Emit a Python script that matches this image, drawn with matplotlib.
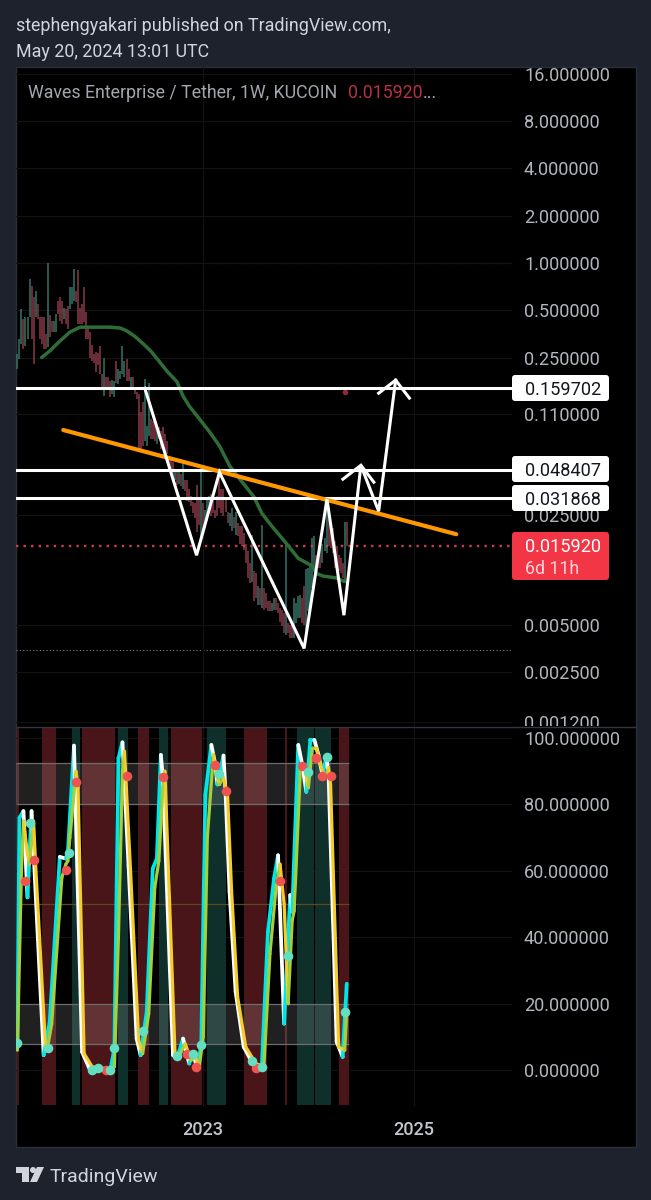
import numpy as np
import pandas as pd
import matplotlib
matplotlib.use("Agg")
import matplotlib.pyplot as plt
import matplotlib.dates as mdates
from matplotlib.patches import FancyBboxPatch, Polygon, Circle
from matplotlib.transforms import IdentityTransform, Bbox, TransformedBbox

plt.rcParams['font.family'] = ['Roboto', 'DejaVu Sans']

# ---------- data ----------
last_week = '2024-05-13'
n_weeks = 164
highs = [.263,.328,.508,.439,.45,.45,.786,.71,.61,.66,.546,.45,.45,.45,.353,1.0,.465,.425,.425,.472,
         .57,.61,.57,.52,.508,.53,.70,.70,.909,.66,.895,.52,.546,.70,.485,.395,.365,.30,.263,.27,
         .267,.297,.197,.25,.187,.187,.177,.18,.177,.238,.211,.204,.297,.238,.245,.211,.187,.187,.163,.151,
         .147,.113,.13,.183,.092,.173,.102,.098,.098,.091,.091,.085,.091,.082,.074,.0595,.0569,.0545,.0492,.047,
         .0492,.0457,.0529,.0413,.0413,.0367,.033,.0303,.0295,.0385,.0317,.0505,.0295,.0267,.0317,.033,.0341,.0317,.0267,.033,
         .047,.0367,.0367,.0325,.0262,.0255,.0274,.0243,.0262,.022,.0211,.0211,.019,.0164,.0146,.0123,.0186,.011,.0106,.0088,
         .0085,.0214,.0085,.0079,.0071,.0071,.0069,.0074,.0074,.0069,.0064,.0062,.0059,.0164,.0051,.005,.0051,.0074,.0069,.0076,
         .0077,.0074,.0088,.0113,.0115,.0123,.0177,.0182,.0139,.0142,.0153,.0164,.0177,.0326,.0274,.0226,.0205,.0169,.0158,.0139,
         .0132,.0123,.0226,.0226]
lows = [.211,.245,.305,.283,.297,.328,.45,.328,.227,.45,.439,.328,.305,.283,.283,.29,.34,.365,.365,.365,
        .472,.425,.408,.439,.408,.379,.508,.546,.57,.56,.408,.408,.408,.42,.328,.328,.25,.238,.232,.202,
        .224,.197,.163,.142,.158,.155,.14,.147,.14,.172,.17,.183,.197,.187,.177,.177,.163,.158,.147,.136,
        .0635,.0659,.0685,.074,.0685,.079,.0763,.0763,.0735,.0709,.0763,.0659,.0659,.064,.0612,.0468,.0457,.0425,.0413,.0385,
        .0395,.038,.0367,.0352,.0308,.0303,.0283,.0255,.0237,.0195,.0214,.0177,.019,.0205,.0227,.0255,.0247,.0255,.0237,.0247,
        .0274,.0255,.0247,.0262,.022,.0211,.0198,.0205,.0186,.0183,.0164,.0159,.0149,.0123,.0099,.0092,.0094,.0071,.0074,.0067,
        .0067,.0064,.0062,.0064,.0061,.0061,.0061,.0062,.0062,.0059,.0052,.0049,.0044,.0043,.0044,.0041,.0041,.0041,.0051,.0055,
        .0055,.0051,.005,.0043,.0061,.0064,.0085,.011,.0108,.0114,.0114,.0123,.0146,.0142,.0159,.0153,.0142,.0114,.0114,.011,
        .0106,.0099,.0094,.0159]
up_weeks = [0,1,2,4,5,6,9,15,18,19,23,26,27,28,43,47,48,50,51,52,53,56,63,64,65,69,78,80,82,91,93,94,95,
            105,106,108,116,119,121,126,127,133,137,138,139,140,143,144,145,146,147,151,152,153,162]

ma_weeks = [12,16,21,26,31,36,41,46,51,54,58,62,66,70,74,79,82,85,90,95,100,105,109,113,117,121,126,131,134,139,146,148,151,158,162]
ma_prices = [.25,.275,.318,.363,.39,.39,.39,.39,.385,.37,.342,.308,.275,.238,.205,.175,.142,.123,.102,.0845,.0685,
             .0513,.0438,.0378,.0326,.0255,.0211,.0177,.0159,.0132,.0118,.0106,.0102,.0099,.0094]

level_prices = [0.159702, 0.048407, 0.031868]
level_labels = ['0.159702', '0.048407', '0.031868']
last_price = 0.015920
last_label = '0.015920'
countdown = '6d 11h'
high_mark = 1.0
low_mark = 0.00345
stray_week, stray_price = 162, 0.1507

trend_weeks = [22.7, 217.2]
trend_prices = [0.0865, 0.0188]

path_weeks = [63.05, 88.67, 100, 141.9, 153.2, 161.6, 170, 178.8, 187.2]
path_prices = [.1595, .01382, .0466, .00353, .0315, .00574, .0516, .0263, .1795]
head1_weeks = [161.1, 170, 176.4]
head1_prices = [.0421, .0516, .0403]
head2_weeks = [178.8, 187.2, 194]
head2_prices = [.1483, .1795, .138]

price_ticks = [16, 8, 4, 2, 1, .5, .25, .11, .025, .005, .0025, .0012]
osc_ticks = [100, 80, 60, 40, 20, 0]
year_ticks = ['2023-01-01', '2025-01-01']
year_labels = ['2023', '2025']

fast_weeks = [0,1,3,5,7,13,16,21,24,25,28,32,36,46,48,50,52,55,59,61,64,67,69,71,72,77,79,82,85,87,89,91,93,96,98,99,
              102,103,105,108,112,116,120,121,124,127,129,132,135,136,139,141,143,145,147,149,151,153,154,158,161,163]
fast_vals = [8.5,76,78,52,78,4.5,14.5,64.2,63.7,65.7,97.7,5.5,0,0,6.5,93.9,98.7,61.7,9.5,4.5,17.6,60.7,63.7,94.9,88,4.5,3.5,9.5,2,5,.5,7.5,82.8,97.9,91.9,86,
             94.7,83.8,53.7,23.6,7,2.5,.5,1.5,41.6,57.7,64.7,14,52.7,47.7,97.9,91.9,83.8,99.4,99.4,94.9,88.8,94.4,88.8,8.5,4,26]
slow_weeks = [0,2,3,5,6,8,9,14,15,17,22,24,25,26,29,30,33,37,46,48,50,52,53,56,60,62,65,68,70,72,73,78,80,83,86,88,90,92,94,97,99,100,
              102,104,106,109,113,118,122,125,128,130,132,134,136,137,140,142,144,146,148,150,152,154,155,159,162,163]
slow_vals = [6,60,75,65,62,75,62,6,7,14,58,62,63,70,90,85,5,1,.3,1,40,90,96,60,9,5,17,55,63,85,90,5,4,8,3,4,1,10,70,95,88,86,
             88,83,54,22,7,2,1,35,55,62,50,20,45,48,90,92,85,97,97,92,88,91,86,7,6,18]
red_dot_weeks = [4,8,24,29,44,54,72,84,88.5,98,103,118,130,141,148,151,155]
red_dot_vals = [57,63.4,60.2,86.8,0,88.5,88.3,4.8,.8,91.9,84.1,.5,56.9,91.7,94,88.6,88.4]
mint_dot_weeks = [0,6.4,15,25.6,37,40,46,48,62,79,87,91,100,116,121,134,144,153,162]
mint_dot_vals = [8.3,74.3,6.7,65.4,0,.5,0,6.7,11.7,4.2,5,7.7,89.3,2.8,.8,34.4,89.8,94.2,17.6]

red_band_start = [0,12,32,59.5,76,112,132.5,159]
red_band_end = [1,19,48.5,65,91.5,123.5,133.5,164]
teal_band_start = [27,50,70,94,138.5,147.5]
teal_band_end = [31,54.5,74.5,103,147,155]
zone_high = (80, 92.5)
zone_low = (8, 20)
mid_level = 50

# ---------- helpers ----------
W, H = 651, 1200
fig = plt.figure(figsize=(W / 100, H / 100), dpi=100, facecolor='#1e222d')
fx = lambda x: x / W
fy = lambda y: 1 - y / H
dates = pd.date_range(end=last_week, periods=n_weeks, freq='7D')
t0 = mdates.date2num(dates[0])
wk = lambda w: t0 + 7 * np.asarray(w, dtype=float)
PX = IdentityTransform()
TICK = '#b2b5be'
FS = 13.1

def px_box(x0, y0, x1, y1, color):
    fig.add_artist(FancyBboxPatch((x0, H - y1), x1 - x0, y1 - y0, boxstyle='round,pad=0,rounding_size=3',
                                  fc=color, ec='none', transform=PX, zorder=5))

# frame
fig.add_artist(plt.Rectangle((fx(16), fy(1147)), 620 / W, 1080 / H, transform=fig.transFigure,
                             fc='#000000', ec='#2a2e39', lw=1, zorder=-1))

ax = fig.add_axes([fx(16), fy(726), 496 / W, 659 / H], facecolor='none')
axo = fig.add_axes([fx(16), fy(1107), 496 / W, 380 / H], facecolor='none')

# shared time scale: 2023 label at x=203, 2025 label at x=414
a = mdates.date2num(pd.Timestamp(year_ticks[0]))
b = mdates.date2num(pd.Timestamp(year_ticks[1]))
scale = (b - a) / (414 - 203)
xlim = (a + (16 - 203) * scale, a + (512 - 203) * scale)

# ---------- price panel ----------
ax.set_yscale('log', base=2)
ax.set_ylim(0.001133, 17.62)
ax.set_xlim(*xlim)
up = np.isin(np.arange(n_weeks), up_weeks)
ax.vlines(mdates.date2num(dates), lows, highs, colors=np.where(up, '#357568', '#8a3a49'), lw=1.1, zorder=2)
ax.plot(wk(ma_weeks), ma_prices, color='#2f6d38', lw=2.5, zorder=3, solid_capstyle='round')
for p in level_prices:
    ax.axhline(p, color='white', lw=2.2, zorder=4)
ax.axhline(high_mark, color='#666a70', lw=0.8, ls=(0, (1, 2)), zorder=1)
ax.axhline(low_mark, color='#7a7d82', lw=0.8, ls=(0, (1, 2)), zorder=1)
ax.axhline(last_price, color='#c84050', lw=1.7, ls=(0, (1, 2.2)), zorder=2)
ax.plot(wk(trend_weeks), trend_prices, color='#ff9800', lw=3, zorder=5, solid_capstyle='round')
for xs, ys in ((path_weeks, path_prices), (head1_weeks, head1_prices), (head2_weeks, head2_prices)):
    ax.plot(wk(xs), ys, color='white', lw=2.2, zorder=6, solid_joinstyle='miter')
ax.plot(wk([stray_week]), [stray_price], marker='o', ms=4, color='#8e2b3b', mec='none', zorder=3)

ax.yaxis.tick_right()
ax.set_yticks(price_ticks)
ax.set_yticklabels([f'{v:.6f}' for v in price_ticks])
ax.minorticks_off()
ax.tick_params(axis='y', length=0, pad=8.6, labelsize=FS, labelcolor=TICK)
ax.tick_params(axis='x', length=0, labelbottom=False)
ax.set_xticks([a, b])
ax.grid(True, color='#131313', lw=0.8, zorder=0)
clip = TransformedBbox(Bbox([[0, fy(726)], [1, fy(60)]]), fig.transFigure)
for lab in ax.get_yticklabels():
    lab.set_clip_on(True)
    lab.set_clip_box(clip)

# ---------- oscillator panel ----------
axo.set_xlim(*xlim)
axo.set_ylim(-11.1, 103.3)
for s, e in zip(red_band_start, red_band_end):
    axo.axvspan(wk(s), wk(e), ymin=2 / 380, color='#4a1518', lw=0, zorder=1)
for s, e in zip(teal_band_start, teal_band_end):
    axo.axvspan(wk(s), wk(e), ymin=2 / 380, color='#0f2f2a', lw=0, zorder=1)
zone_end = wk(164)
for lo, hi in (zone_high, zone_low):
    axo.fill_between([xlim[0], zone_end], lo, hi, color='white', alpha=0.13, lw=0, zorder=2)
    axo.hlines([lo, hi], xlim[0], zone_end, color='#6d6d6d', lw=0.9, zorder=2)
axo.hlines(mid_level, xlim[0], zone_end, color='#5c4a1e', lw=0.9, zorder=2)

for weeks, vals, rise, fall, lw, z in ((fast_weeks, fast_vals, '#00e6e6', '#ffffff', 2.7, 4),
                                      (slow_weeks, slow_vals, '#a6cf3a', '#f6cb2c', 2.3, 5)):
    for i in range(len(weeks) - 1):
        c = rise if vals[i + 1] >= vals[i] else fall
        axo.plot(wk(weeks[i:i + 2]), vals[i:i + 2], color=c, lw=lw, zorder=z, solid_capstyle='round')
axo.scatter(wk(red_dot_weeks), red_dot_vals, s=48, color='#ef5350', lw=0, zorder=7)
axo.scatter(wk(mint_dot_weeks), mint_dot_vals, s=48, color='#62dfc0', lw=0, zorder=7)

axo.yaxis.tick_right()
axo.set_yticks(osc_ticks)
axo.set_yticklabels([f'{v:.6f}' for v in osc_ticks])
axo.set_xticks([a, b])
axo.set_xticklabels(year_labels, fontweight='medium')
axo.tick_params(axis='y', length=0, pad=8.6, labelsize=FS, labelcolor=TICK)
axo.tick_params(axis='x', length=0, pad=10, labelsize=13, labelcolor='#c4c6cc')
axo.grid(True, color='#131313', lw=0.8, zorder=0)
axo.set_axisbelow(True)
for A in (ax, axo):
    for sp in A.spines.values():
        sp.set_visible(False)

# panel separator
fig.add_artist(plt.Line2D([fx(16), fx(636)], [fy(726.5)] * 2, color='#33363f', lw=1, zorder=4))

# ---------- price labels ----------
for lab, yc in zip(level_labels, (388, 469, 498)):
    px_box(512, yc - 13, 609, yc + 13, 'white')
    fig.text(fx(525), fy(yc), lab, color='#131722', fontsize=FS, va='center_baseline', zorder=6)
px_box(512, 532, 609, 580, '#f23645')
fig.text(fx(525), fy(545), last_label, color='white', fontsize=FS, va='center_baseline', zorder=6)
fig.text(fx(525), fy(567), countdown, color='#ffd5d9', fontsize=FS - 0.3, va='center_baseline', zorder=6)

# ---------- header / footer ----------
fig.text(fx(16), fy(24), 'stephengyakari published on TradingView.com,', color='#d1d4dc', fontsize=12.9, va='center_baseline')
fig.text(fx(16), fy(50), 'May 20, 2024 13:01 UTC', color='#d1d4dc', fontsize=12.9, va='center_baseline')
fig.text(fx(28), fy(91), 'Waves Enterprise / Tether, 1W, KUCOIN', color='#a3a6af', fontsize=12.8, va='center_baseline', zorder=6)
fig.text(fx(348), fy(91), '0.015920', color='#b5323f', fontsize=12.8, va='center_baseline', zorder=6)
fig.text(fx(423), fy(91), '...', color='#a3a6af', fontsize=12.8, va='center_baseline', zorder=6)
fig.text(fx(50), fy(1175), 'TradingView', color='#d1d4dc', fontsize=14, va='center_baseline')

logo = '#d1d4dc'
for pts in ([(16, 1167), (29, 1167), (29, 1182), (22, 1182), (22, 1173), (16, 1173)],
            [(37, 1167), (44, 1167), (37, 1182), (30, 1182)]):
    fig.add_artist(Polygon([(x, H - y) for x, y in pts], closed=True, fc=logo, ec='none', transform=PX))
fig.add_artist(Circle((33, H - 1170), 3, fc=logo, ec='none', transform=PX))

fig.savefig('out.png', dpi=100, facecolor=fig.get_facecolor())
